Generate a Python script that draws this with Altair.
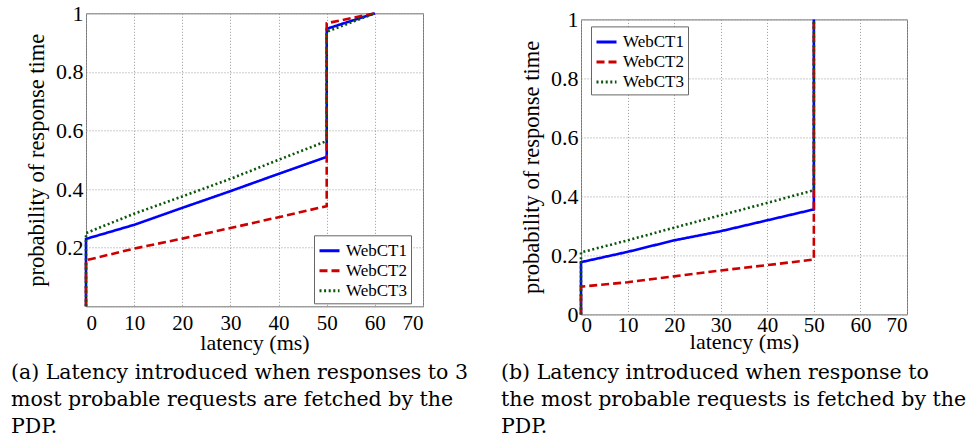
import altair as alt
import pandas as pd

# ---- data -----------------------------------------------------------------
series = ["WebCT1", "WebCT2", "WebCT3"]
colors = ["#0000ff", "#cc0000", "#0b550b"]
dashes = [[1, 0], [8, 4], [2, 2.6]]

latency = [0, 10, 20, 30, 40, 50]
x_ticks = [0, 10, 20, 30, 40, 50, 60, 70]
y_ticks = [0, 0.2, 0.4, 0.6, 0.8, 1.0]

# (a) responses to the 3 most probable requests prefetched
a_webct1 = [0.230, 0.278, 0.336, 0.393, 0.452, 0.510]
a_webct2 = [0.157, 0.197, 0.231, 0.267, 0.304, 0.342]
a_webct3 = [0.250, 0.316, 0.375, 0.435, 0.500, 0.564]
a_jump_top = [0.947, 0.966, 0.937]
a_tail_x = 60
a_tail_y = 1.0

# (b) response to the most probable request prefetched
b_webct1 = [0.177, 0.212, 0.251, 0.282, 0.319, 0.356]
b_webct2 = [0.094, 0.109, 0.129, 0.149, 0.167, 0.186]
b_webct3 = [0.210, 0.251, 0.294, 0.336, 0.378, 0.421]
b_jump_top = [1.0, 1.0, 1.0]

caption_a = ["(a) Latency introduced when responses to 3",
             "most probable requests are fetched by the",
             "PDP."]
caption_b = ["(b) Latency introduced when response to",
             "the most probable requests is fetched by the",
             "PDP."]


def cdf_frame(curves, jump_top, tail=None):
    rows = []
    for name, ys, top in zip(series, curves, jump_top):
        pts = [(0, 0.0)] + list(zip(latency, ys)) + [(latency[-1], top)]
        if tail is not None:
            pts.append(tail)
        for i, (x, y) in enumerate(pts):
            rows.append({"series": name, "latency": x, "prob": y, "step": i})
    return pd.DataFrame(rows)


SERIF = "Liberation Serif"
CAPTION_FONT = "DejaVu Serif"


def panel(df, width, height, legend_xy, caption, cap_xy, show_zero,
          x_label_pad, x_title_pad, y_title_pad, extent):
    legend = alt.Legend(
        title=None, orient="none", legendX=legend_xy[0], legendY=legend_xy[1],
        symbolType="stroke", symbolSize=400, symbolStrokeWidth=3,
        labelFont=SERIF, labelFontSize=17, labelColor="black",
        labelOffset=5, fillColor="white", strokeColor="#666",
        padding=4, rowPadding=0, symbolOffset=0,
    )
    zero = "'0'" if show_zero else "''"
    lines = alt.Chart(df).mark_line(strokeWidth=2.6).encode(
        x=alt.X("latency:Q", scale=alt.Scale(domain=[0, 70], nice=False),
                axis=alt.Axis(values=x_ticks, title="latency (ms)",
                              labelFont=SERIF, labelFontSize=21, labelColor="black",
                              titleFont=SERIF, titleFontSize=22, titleFontWeight="normal",
                              titleColor="black",
                              labelPadding=x_label_pad, titlePadding=x_title_pad)),
        y=alt.Y("prob:Q", scale=alt.Scale(domain=[0, 1], nice=False),
                axis=alt.Axis(values=y_ticks, title="probability of response time",
                              labelFont=SERIF, labelFontSize=22, labelColor="black",
                              titleFont=SERIF, titleFontSize=22.5, titleFontWeight="normal",
                              titleColor="black",
                              titlePadding=y_title_pad, labelPadding=3,
                              labelExpr=f"datum.value == 0 ? {zero} : "
                                        "(datum.value == 1 ? '1' : format(datum.value, '.1f'))")),
        color=alt.Color("series:N", scale=alt.Scale(domain=series, range=colors),
                        legend=legend),
        strokeDash=alt.StrokeDash("series:N", scale=alt.Scale(domain=series, range=dashes),
                                  legend=legend),
        order="step:Q",
    )
    cap = alt.Chart(pd.DataFrame({"t": ["\n".join(caption)]})).mark_text(
        align="left", baseline="top", font=CAPTION_FONT, fontSize=20.5,
        lineBreak="\n", lineHeight=27, color="black",
    ).encode(x=alt.value(cap_xy[0]), y=alt.value(cap_xy[1]), text="t:N")
    # transparent box that fixes the panel's outer extent in the layout
    guide = alt.Chart(pd.DataFrame({"g": [0]})).mark_rect(
        fill="white", opacity=0
    ).encode(x=alt.value(extent[0]), x2=alt.value(extent[1]),
             y=alt.value(extent[2]), y2=alt.value(extent[3]))
    return alt.layer(lines, cap, guide).properties(width=width, height=height)


left = panel(cdf_frame([a_webct1, a_webct2, a_webct3], a_jump_top, (a_tail_x, a_tail_y)),
             337, 293, (228, 222), caption_a, (-75, 350), False, 6, -1, 7,
             (-75, 400, -12.7, 432.9))
right = panel(cdf_frame([b_webct1, b_webct2, b_webct3], b_jump_top),
              326, 295, (10, 7), caption_b, (-80, 343.7), True, 0, -4, 7,
              (-90, 326, -18.3, 420.7))

chart = alt.hconcat(left, right, spacing=3, center=True).resolve_scale(
    color="independent", strokeDash="independent"
).properties(
    padding={"left": 10, "top": 0, "right": 0, "bottom": 0}
).configure_view(stroke="#777", strokeWidth=1).configure_axis(
    domain=False, ticks=False, grid=True, gridColor="#999", gridDash=[1, 2],
    gridWidth=1,
)

chart.save("out.html", embed_options={"renderer": "svg", "actions": False})
